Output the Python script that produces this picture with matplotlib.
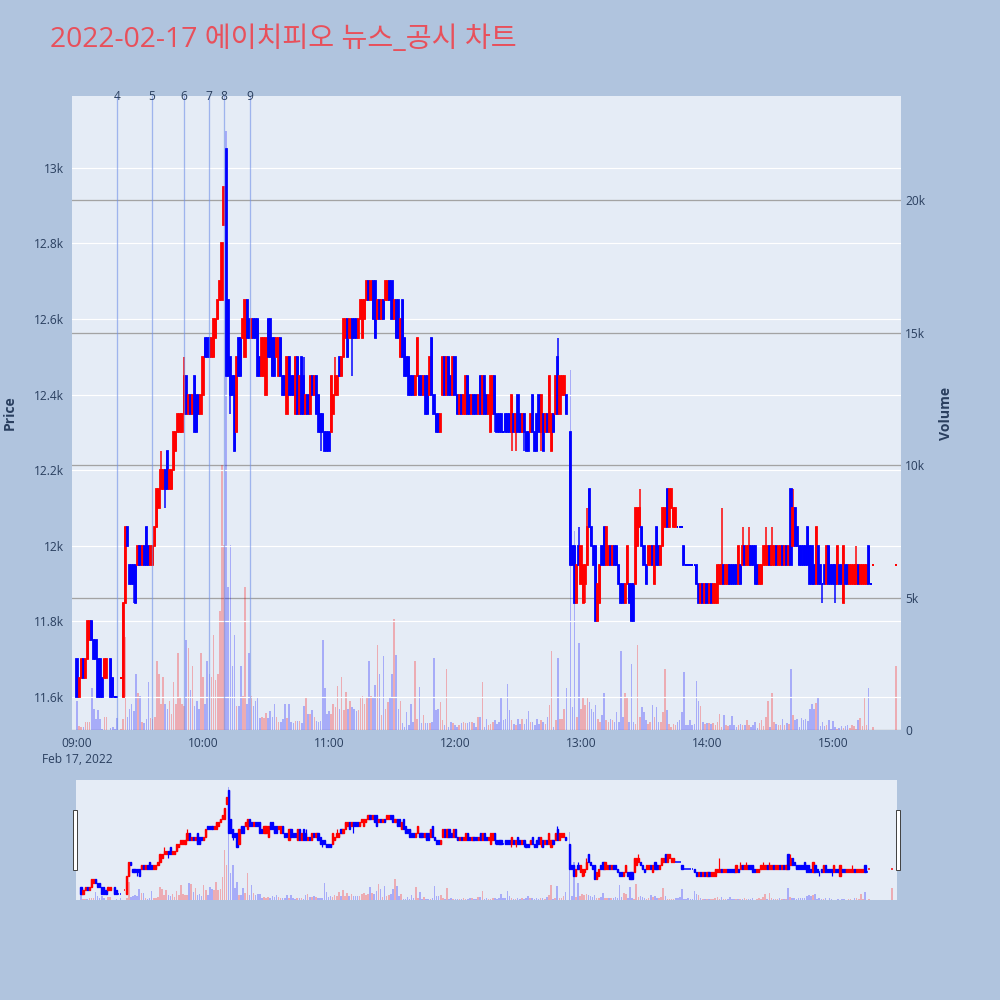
import matplotlib
matplotlib.use('Agg')
import matplotlib.pyplot as plt
import numpy as np
from matplotlib.ticker import FuncFormatter, FixedLocator

# ---------------- data (minutes after 09:00) ----------------
opens = [
    11700, 11600, 11650, 11700, 11650, 11700, 11750, 11800, 11750, 11750,
    11700, 11700, 11650, 11650, 11650, None, 11700, 11650, 11600, 11600,
    None, 11650, 11600, 11850, 12050, 11950, 11950, 11950, 11950, 11950,
    12000, 11950, 12000, 12050, 12000, 11950, 11950, 12000, 12050, 12100,
    12150, 12150, 12200, 12250, 12150, 12150, 12200, 12250, 12300, 12300,
    12300, 12350, 12450, 12350, 12400, 12350, 12450, 12400, 12400, 12350,
    12400, 12550, 12550, 12550, 12500, 12500, 12550, 12600, 12650, 12650,
    12850, 13050, 12650, 12500, 12450, 12450, 12300, 12550, 12550, 12550,
    12500, 12650, 12600, 12550, 12600, 12600, 12600, 12500, 12450, 12450,
    12400, 12600, 12600, 12550, 12550, 12500, 12450, 12550, 12450, 12450,
    12350, 12500, 12450, 12450, 12350, 12500, 12350, 12500, 12450, 12350,
    12400, 12350, 12450, 12400, 12450, 12400, 12350, 12350, 12300, 12300,
    12300, 12300, 12350, 12400, 12400, 12500, 12450, 12500, 12550, 12600,
    12550, 12600, 12600, 12600, 12550, 12600, 12550, 12600, 12650, 12700,
    12650, 12700, 12700, 12600, 12650, 12600, 12650, 12650, 12650, 12700,
    12700, 12600, 12650, 12650, 12500, 12650, 12550, 12500, 12500, 12450,
    12450, 12400, 12450, 12450, 12450, 12400, 12450, 12450, 12400, 12550,
    12400, 12350, 12350, 12300, 12400, 12500, 12400, 12500, 12450, 12400,
    12500, 12400, 12350, 12400, 12350, 12350, 12450, 12400, 12350, 12400,
    12400, 12350, 12450, 12350, 12450, 12400, 12350, 12300, 12350, 12450,
    12350, 12350, 12350, 12300, 12350, 12350, 12350, 12300, 12350, 12300,
    12400, 12350, 12300, 12350, 12300, 12300, 12300, 12400, 12300, 12350,
    12400, 12300, 12350, 12300, 12350, 12300, 12250, 12350, 12350, 12500,
    12350, 12400, 12400, 12400, None, 12300, 12000, 12000, 11850, 12000,
    11900, 11850, 11900, 11950, 12150, 12050, 12000, 12000, 11800, 11850,
    12000, 12050, 11950, 11950, 12000, 11950, 12000, 12000, 11950, 11900,
    11900, 11850, 11900, 11900, 11900, 11900, 11900, 12000, 12050, 12050,
    12000, 11950, 11950, 11950, 12000, 11900, 12050, 12000, 11950, 12000,
    12050, 12150, 12050, 12100, 12050, 12050, 12050, 12050, 12050, 12000,
    11950, 11950, 11950, 11950, 11950, 11950, 11900, 11850, 11900, 11850,
    11900, 11850, 11900, 11850, 11850, 11850, 11900, 11900, 11950, 11900,
    11900, 11950, 11950, 11950, 11950, 11900, 11950, 11950, 12000, 11950,
    11950, 12000, 12000, 12000, 11950, 11900, 11900, 11950, 11950, 11950,
    12000, 11950, 11950, 12000, 11950, 11950, 12000, 11950, 12000, 11950,
    12150, 12000, 12100, 12050, 12000, 12000, 12000, 12000, 12050, 12000,
    12000, 11950, 11900, 12000, 11950, 11900, 11950, 11900, 12000, 11950,
    11950, 11950, 11900, 11950, 11950, 11850, 11950, 11950, 11900, 11900,
    11900, 11900, 11950, 11900, 11900, 11900, 11900, 12000, 11900, 11950,
    None, None, None, None, None, None, None, None, None, None,
    11950,
]
closes = [
    11600, 11650, 11700, 11650, 11700, 11800, 11800, 11750, 11700, 11700,
    11600, 11600, 11600, 11700, 11700, None, 11600, 11600, 11600, 11600,
    None, 11650, 11850, 12050, 12000, 11900, 11900, 11900, 11850, 12000,
    11950, 12000, 11950, 11950, 11950, 12000, 12000, 12050, 12150, 12150,
    12200, 12200, 12150, 12150, 12200, 12200, 12300, 12300, 12350, 12350,
    12350, 12450, 12350, 12400, 12350, 12400, 12300, 12300, 12350, 12400,
    12500, 12500, 12500, 12500, 12550, 12600, 12600, 12650, 12700, 12800,
    12950, 12450, 12450, 12400, 12400, 12250, 12500, 12450, 12450, 12600,
    12650, 12550, 12550, 12600, 12550, 12550, 12450, 12450, 12550, 12550,
    12550, 12500, 12500, 12450, 12450, 12550, 12550, 12450, 12400, 12400,
    12500, 12400, 12400, 12400, 12500, 12350, 12450, 12350, 12350, 12400,
    12350, 12450, 12400, 12450, 12350, 12300, 12300, 12300, 12250, 12250,
    12250, 12450, 12400, 12450, 12450, 12450, 12500, 12600, 12600, 12500,
    12600, 12550, 12550, 12550, 12600, 12650, 12650, 12650, 12700, 12650,
    12700, 12600, 12550, 12650, 12600, 12650, 12600, 12700, 12700, 12650,
    12600, 12650, 12550, 12550, 12600, 12500, 12450, 12450, 12400, 12400,
    12400, 12450, 12550, 12400, 12400, 12450, 12350, 12350, 12500, 12400,
    12350, 12300, 12300, 12350, 12500, 12400, 12500, 12400, 12400, 12500,
    12400, 12350, 12400, 12350, 12400, 12450, 12350, 12350, 12400, 12350,
    12350, 12400, 12350, 12450, 12350, 12350, 12400, 12450, 12450, 12350,
    12300, 12300, 12300, 12300, 12300, 12300, 12300, 12400, 12300, 12350,
    12300, 12300, 12350, 12300, 12250, 12250, 12350, 12300, 12250, 12250,
    12300, 12400, 12250, 12350, 12300, 12450, 12350, 12300, 12450, 12350,
    12450, 12450, 12450, 12350, None, 11950, 11950, 11850, 11950, 11950,
    12000, 11950, 11950, 12050, 12050, 12000, 11950, 11800, 11900, 11950,
    11950, 11950, 12050, 12000, 11950, 12000, 11950, 11950, 11900, 11850,
    11850, 11900, 12000, 11850, 11800, 11800, 12100, 12100, 12100, 12000,
    11950, 11900, 12000, 12000, 11950, 12000, 11950, 11950, 12000, 12100,
    12100, 12050, 12150, 12150, 12100, 12100, 12050, 12050, 12050, 11950,
    11950, 11950, 11950, 11950, 11950, 11900, 11850, 11900, 11850, 11900,
    11850, 11900, 11850, 11900, 11900, 11950, 11950, 11950, 11900, 11950,
    11950, 11900, 11900, 11900, 11900, 12000, 11900, 12000, 11950, 12000,
    12000, 11950, 11950, 11900, 11900, 11950, 11950, 12000, 12000, 12000,
    11950, 12000, 12000, 11950, 12000, 12000, 11950, 12000, 11950, 12000,
    11950, 12100, 12000, 12000, 11950, 11950, 11950, 11950, 11950, 11900,
    11900, 11900, 12050, 11900, 11900, 11900, 11900, 12000, 11900, 11900,
    11900, 11900, 12000, 11900, 11900, 12000, 11900, 11900, 11950, 11950,
    11950, 11950, 11900, 11950, 11950, 11950, 11950, 11900, 11900, 11950,
    None, None, None, None, None, None, None, None, None, None,
    11950,
]
# extra wick extremes (minute -> price)
wick_highs = {40: 12250, 51: 12500, 108: 12500, 123: 12500, 229: 12550,
              239: 12050, 243: 12100, 268: 12150, 307: 12100, 317: 12050,
              320: 12050, 328: 12050, 331: 12050, 341: 12150, 371: 12000}
wick_lows = {27: 11850, 42: 12100, 73: 12350, 116: 12250, 131: 12450,
             199: 12300, 207: 12250, 209: 12250, 213: 12250, 221: 12250,
             242: 11850, 355: 11850, 361: 11850}
volumes = [
    1100, 150, 100, 100, 300, 300, 300, 1600, 800, 400,
    750, 400, 50, 500, 500, 0, 80, 100, 50, 450,
    0, 50, 400, 3500, 500, 800, 1000, 700, 2100, 1400,
    1300, 300, 250, 400, 1800, 450, 400, 500, 2600, 2100,
    1000, 2000, 1000, 800, 1100, 600, 1800, 1000, 2900, 1200,
    1000, 900, 3400, 3100, 1500, 2400, 900, 1100, 800, 2900,
    2000, 1000, 2600, 2100, 2000, 3600, 1900, 2100, 4500, 10000,
    7000, 22600, 5400, 7000, 2400, 3600, 900, 900, 2400, 1300,
    5400, 1000, 2900, 1300, 900, 1100, 1200, 450, 500, 450,
    650, 450, 700, 500, 1000, 500, 300, 300, 400, 1000,
    450, 1000, 300, 250, 350, 350, 350, 250, 900, 1250,
    600, 600, 750, 500, 350, 300, 350, 3400, 1600, 600,
    700, 600, 1000, 850, 1650, 800, 2000, 750, 1450, 800,
    1100, 850, 800, 700, 750, 1250, 1300, 1000, 1250, 2600,
    1300, 1200, 1700, 3200, 2100, 550, 2800, 800, 1050, 1250,
    2100, 4200, 2850, 800, 1100, 250, 100, 680, 180, 1000,
    300, 2600, 430, 1630, 250, 560, 250, 250, 250, 300,
    2700, 750, 800, 1060, 370, 180, 2300, 120, 300, 250,
    180, 120, 200, 250, 300, 250, 250, 300, 300, 250,
    120, 500, 500, 1800, 120, 430, 180, 240, 300, 370,
    240, 300, 1250, 370, 430, 1750, 740, 370, 240, 180,
    430, 240, 430, 240, 430, 700, 300, 300, 180, 430,
    240, 370, 300, 240, 500, 940, 3000, 120, 370, 2700,
    430, 430, 800, 1600, 0, 13600, 870, 7500, 500, 3300,
    800, 1250, 930, 1200, 1060, 800, 680, 930, 430, 300,
    560, 1380, 370, 300, 430, 370, 300, 680, 300, 3000,
    500, 1380, 1200, 300, 2500, 300, 240, 3200, 500, 870,
    680, 370, 240, 300, 960, 500, 870, 300, 300, 680,
    2300, 740, 240, 120, 240, 180, 300, 370, 680, 2200,
    180, 180, 370, 180, 240, 1850, 1100, 900, 300, 240,
    280, 280, 240, 280, 180, 300, 620, 120, 580, 180,
    150, 180, 530, 180, 120, 200, 240, 200, 180, 370,
    180, 120, 180, 300, 80, 280, 370, 150, 500, 1100,
    120, 1400, 300, 240, 180, 180, 430, 200, 250, 240,
    2300, 560, 370, 430, 120, 450, 370, 430, 330, 800,
    1000, 800, 1030, 1200, 150, 300, 150, 200, 370, 50,
    330, 120, 50, 80, 150, 80, 150, 180, 80, 180,
    150, 50, 370, 450, 150, 1250, 200, 1600, 0, 100,
    0, 0, 0, 0, 0, 0, 0, 0, 0, 0,
    2400,
]
news_labels = ['4', '5', '6', '7', '8', '9']
news_minutes = [19.0, 35.7, 51.0, 62.9, 70.0, 82.4]
hour_ticks = [0, 60, 120, 180, 240, 300, 360]
hour_labels = ['09:00\nFeb 17, 2022', '10:00', '11:00', '12:00', '13:00', '14:00', '15:00']
price_ticks = [11600, 11800, 12000, 12200, 12400, 12600, 12800, 13000]
volume_ticks = [0, 5000, 10000, 15000, 20000]
title = '2022-02-17 에이치피오 뉴스_공시 차트'

assert len(opens) == len(closes) == len(volumes) == 391

# ---------------- derived series ----------------
x_all = np.arange(len(opens))
valid = np.array([o is not None for o in opens])
xs = x_all[valid]
o = np.array([v for v in opens if v is not None], float)
c = np.array([v for v in closes if v is not None], float)
hi = np.maximum(o, c)
lo = np.minimum(o, c)
for k, v in wick_highs.items():
    hi[np.where(xs == k)[0]] = v
for k, v in wick_lows.items():
    lo[np.where(xs == k)[0]] = v

# direction rule (plotly-like): equal open/close -> compare with previous close
up = np.zeros(len(xs), bool)
prev_c, prev_up = None, False
for i in range(len(xs)):
    if c[i] > o[i]:
        u = True
    elif c[i] < o[i]:
        u = False
    else:
        if prev_c is None or c[i] == prev_c:
            u = prev_up
        else:
            u = c[i] > prev_c
    up[i] = u
    prev_c, prev_up = c[i], u

RED, BLUE = '#FF0000', '#0000FF'
cols = np.where(up, RED, BLUE)

vol = np.array(volumes, float)
vol_up = np.zeros(len(vol), bool)
vol_up[xs] = up

# ---------------- figure ----------------
W = H = 1000
fig = plt.figure(figsize=(10, 10), dpi=100)
fig.patch.set_facecolor('#B0C4DE')
TXT = '#2a3f5f'
FONT = ['Open Sans', 'DejaVu Sans']
plt.rcParams['font.family'] = FONT


def rect(l, t, r, b):
    return [l / W, 1 - b / H, (r - l) / W, (b - t) / H]


PX = 0.72  # points per pixel at dpi 100
AX_L, AX_R = 72, 901

ax = fig.add_axes(rect(AX_L, 96, AX_R, 730))
axv = ax.twinx()
ax.set_zorder(2)
axv.set_zorder(1)
ax.patch.set_visible(False)
axv.patch.set_visible(True)
axv.patch.set_facecolor('#E5ECF6')

XMIN, XMAX = -2.4, 392.4
PMIN, PMAX = 11513, 13190
VMAX = 23940

# volume
axv.bar(x_all, vol, width=0.75, color=np.where(vol_up, RED, BLUE), alpha=0.27,
        linewidth=0, zorder=3)
axv.set_ylim(0, VMAX)
axv.yaxis.set_major_locator(FixedLocator(volume_ticks))
axv.yaxis.set_major_formatter(FuncFormatter(lambda v, p: '0' if v == 0 else f'{v/1000:g}k'))
axv.grid(True, axis='y', color='#a3a3a3', linewidth=1.3 * PX)
axv.set_axisbelow(True)
axv.tick_params(axis='y', length=0, labelsize=12 * PX, labelcolor=TXT, pad=3)
axv.set_ylabel('Volume', fontsize=14 * PX, color=TXT, fontweight='bold')
axv.yaxis.set_label_coords((939 - AX_L) / (AX_R - AX_L), 0.5)

# candles
ax.vlines(xs, lo, hi, colors=cols, linewidth=1.5 * PX, zorder=4)
body_h = c - o
flat = body_h == 0
ax.bar(xs[~flat], body_h[~flat], bottom=o[~flat], width=0.55, color=cols[~flat],
       edgecolor=cols[~flat], linewidth=1.8 * PX, zorder=5)
ax.hlines(c[flat], xs[flat] - 0.4, xs[flat] + 0.4, colors=cols[flat],
          linewidth=2.0 * PX, zorder=5)

ax.set_xlim(XMIN, XMAX)
ax.set_ylim(PMIN, PMAX)
ax.yaxis.set_major_locator(FixedLocator(price_ticks))
ax.yaxis.set_major_formatter(FuncFormatter(lambda v, p: f'{v/1000:g}k'))
ax.grid(True, axis='y', color='white', linewidth=1.2 * PX, zorder=0)
ax.set_axisbelow(True)
ax.tick_params(axis='y', length=0, labelsize=12 * PX, labelcolor=TXT, pad=6)
ax.xaxis.set_major_locator(FixedLocator(hour_ticks))
ax.set_xticklabels(hour_labels)
ax.tick_params(axis='x', length=0, labelsize=12 * PX, labelcolor=TXT, pad=5)
for t in ax.get_xticklabels():
    t.set_linespacing(1.35)
ax.set_ylabel('Price', fontsize=14 * PX, color=TXT, fontweight='bold')
ax.yaxis.set_label_coords((17 - AX_L) / (AX_R - AX_L), 0.5)
for a in (ax, axv):
    for s in a.spines.values():
        s.set_visible(False)

# news lines
for lab, m in zip(news_labels, news_minutes):
    ax.axvline(m, color='#7090E8', alpha=0.6, linewidth=1.3 * PX, zorder=6)
    ax.text(m, 1.0, lab, transform=ax.get_xaxis_transform(), ha='center', va='center',
            fontsize=12 * PX, color=TXT, zorder=7, clip_on=False)

# ---------------- range slider ----------------
rs = fig.add_axes(rect(76, 780, 897, 900))
rsv = rs.twinx()
rs.set_zorder(2)
rsv.set_zorder(1)
rs.patch.set_visible(False)
rsv.patch.set_visible(True)
rsv.patch.set_facecolor('#E5ECF6')
rsv.bar(x_all, vol, width=0.75, color=np.where(vol_up, RED, BLUE), alpha=0.27, linewidth=0)
rsv.set_ylim(0, VMAX)
rs.vlines(xs, lo, hi, colors=cols, linewidth=1.2 * PX)
rs.bar(xs[~flat], body_h[~flat], bottom=o[~flat], width=0.55, color=cols[~flat],
       edgecolor=cols[~flat], linewidth=1.4 * PX)
rs.hlines(c[flat], xs[flat] - 0.4, xs[flat] + 0.4, colors=cols[flat], linewidth=1.5 * PX)
rs.set_xlim(XMIN, XMAX)
rs.set_ylim(PMIN, PMAX)
for a in (rs, rsv):
    a.set_xticks([])
    a.set_yticks([])
    for s in a.spines.values():
        s.set_visible(False)

# slider grabbers
for gx in (73, 896):
    fig.patches.append(plt.Rectangle((gx / W, 1 - 870 / H), 4 / W, 60 / H,
                                     transform=fig.transFigure, facecolor='white',
                                     edgecolor='#444444', linewidth=1 * PX, zorder=10))

# title
fig.text(50 / W, 1 - 40 / H, title, fontsize=20.3, color='#E8505B', ha='left', va='center',
         family=['Open Sans', 'Noto Sans CJK KR'])

fig.savefig('out.png', dpi=100, facecolor=fig.get_facecolor())
